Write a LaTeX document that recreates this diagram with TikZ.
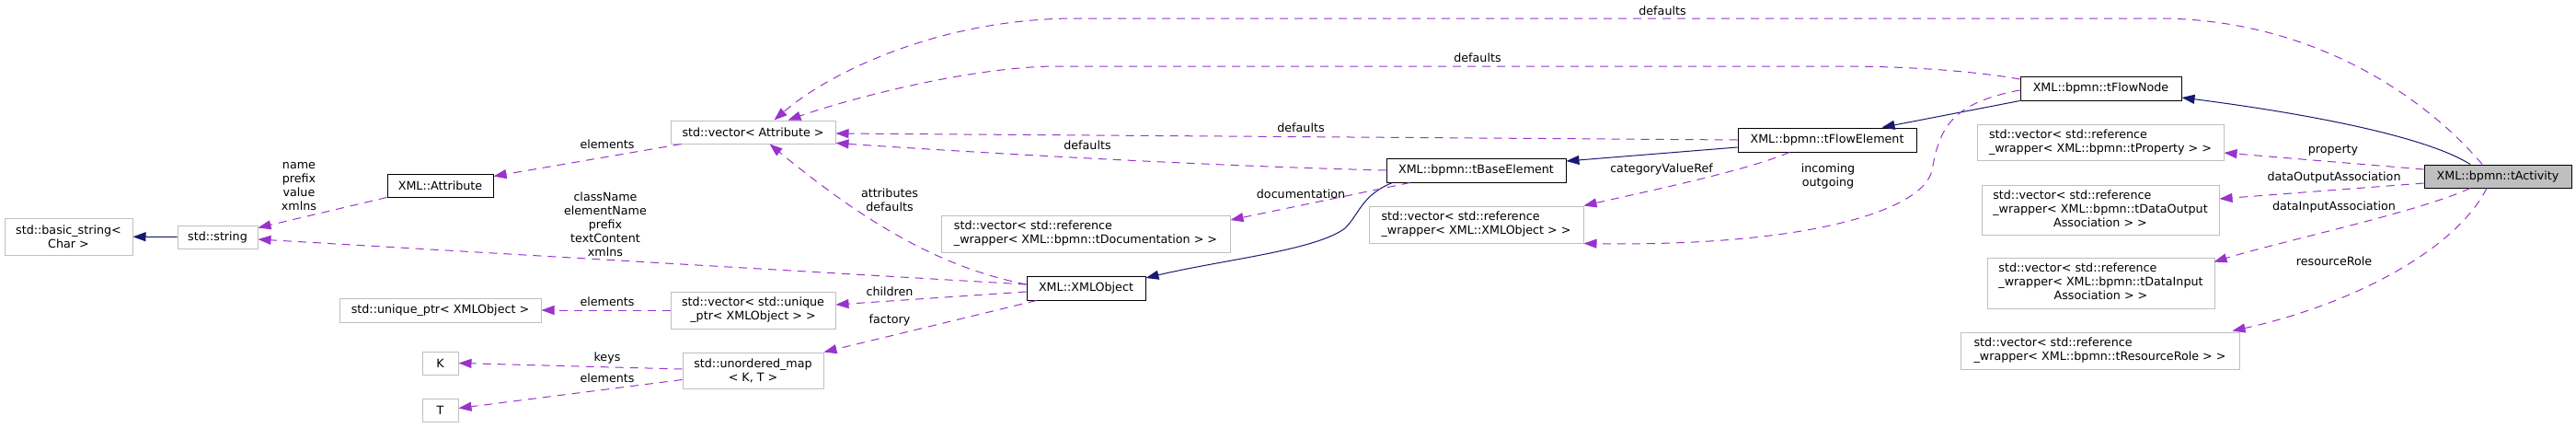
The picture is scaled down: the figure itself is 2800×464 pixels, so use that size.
\documentclass[tikz,border=0pt]{standalone}
\usepackage{fontspec}
\setmainfont{DejaVu Sans}
\usetikzlibrary{arrows.meta}
\definecolor{memline}{RGB}{154,50,205}
\definecolor{inhline}{RGB}{25,25,112}
\definecolor{extgray}{RGB}{191,191,191}

\begin{document}
\begin{tikzpicture}[
  x=1pt, y=-1pt,
  font=\fontsize{12.7}{15}\selectfont,
  cls/.style={draw=black, line width=1pt, fill=white, inner sep=0pt},
  ext/.style={cls, draw=extgray, line width=1pt},
  cur/.style={cls, fill=extgray},
  inh/.style={-{Triangle[length=14pt,width=10pt]}, draw=inhline, line width=1pt},
  mem/.style={-{Triangle[length=14pt,width=10pt]}, draw=memline, line width=1pt,
              dash pattern=on 9pt off 7pt},
  lbl/.style={inner sep=0pt, align=center},
]
\path[use as bounding box, fill=white] (0,0) rectangle (2800,464);

% ===================== LEFT: std types =====================
\node[ext, minimum width=139, minimum height=40, align=center] (bstr) at (74.5,257) {std::basic\_string<\\Char >};
\node[ext, minimum width=87, minimum height=25] (str) at (236.5,257.5) {std::string};
\node[cls, minimum width=115, minimum height=25] (attr) at (478.5,201.5) {XML::Attribute};
\node[ext, minimum width=219, minimum height=26] (uptr) at (478.5,337) {std::unique\_ptr< XMLObject >};
\node[ext, minimum width=39, minimum height=25] (kk) at (478.5,394.5) {K};
\node[ext, minimum width=39, minimum height=25] (tt) at (478.5,445.5) {T};

\node[ext, minimum width=179, minimum height=25] (vattr) at (818.5,143.5) {std::vector< Attribute >};
\node[ext, minimum width=179, minimum height=40, align=center] (vuptr) at (818.5,337) {std::vector< std::unique\\\_ptr< XMLObject > >};
\node[ext, minimum width=153, minimum height=39, align=center] (umap) at (818.5,402.5) {std::unordered\_map\\< K, T >};

% ===================== MIDDLE: XMLObject, tBaseElement =====================
\node[ext, minimum width=314, minimum height=40, align=left] (vdoc) at (1180,254) {std::vector< std::reference\\\_wrapper< XML::bpmn::tDocumentation > >};
\node[cls, minimum width=129, minimum height=26] (xmlobj) at (1180.5,313) {XML::XMLObject};
\node[cls, minimum width=195, minimum height=26] (base) at (1604.5,185) {XML::bpmn::tBaseElement};
\node[ext, minimum width=233, minimum height=40, align=left] (vobj) at (1604.5,244) {std::vector< std::reference\\\_wrapper< XML::XMLObject > >};
\node[cls, minimum width=194, minimum height=26] (flowel) at (1986,152) {XML::bpmn::tFlowElement};
\node[cls, minimum width=175, minimum height=26] (flownode) at (2283.5,96) {XML::bpmn::tFlowNode};

% ===================== RIGHT: tActivity members =====================
\node[ext, minimum width=268, minimum height=39, align=left] (vprop) at (2283,154.5) {std::vector< std::reference\\\_wrapper< XML::bpmn::tProperty > >};
\node[ext, minimum width=258, minimum height=54] (vdout) at (2283,228) {%
\begin{tabular}{@{}l@{}}
std::vector< std::reference\\
\_wrapper< XML::bpmn::tDataOutput\\
\multicolumn{1}{@{}c@{}}{Association > >}
\end{tabular}};
\node[ext, minimum width=247, minimum height=55] (vdin) at (2283.5,307.5) {%
\begin{tabular}{@{}l@{}}
std::vector< std::reference\\
\_wrapper< XML::bpmn::tDataInput\\
\multicolumn{1}{@{}c@{}}{Association > >}
\end{tabular}};
\node[ext, minimum width=303, minimum height=40, align=left] (vrole) at (2282.5,381) {std::vector< std::reference\\\_wrapper< XML::bpmn::tResourceRole > >};
\node[cur, minimum width=160, minimum height=25] (act) at (2715,191.5) {XML::bpmn::tActivity};

% inheritance (child -> base)
\draw[inh] (str) -- (bstr);
\draw[inh] ([shift={(7,0)}]base.south west) .. controls (1480,212) and (1478,232) .. (1462,248)
  .. controls (1430,272) and (1330,282) .. ([shift={(0,-11)}]xmlobj.east);
\draw[inh] ([shift={(0,8)}]flowel.west) -- ([shift={(0,-10)}]base.east);
\draw[inh] (flownode.south west) -- ([shift={(-38,0)}]flowel.north east);
\draw[inh] ([shift={(-30,0)}]act.north) .. controls (2640,150) and (2520,125) .. ([shift={(0,10)}]flownode.east);

% members (owner -> member type)
\draw[mem] (attr.south west) -- ([shift={(0,-10)}]str.east);
\draw[mem] ([shift={(0,-4)}]xmlobj.west) -- ([shift={(0,2.5)}]str.east);
\draw[mem] ([shift={(12,0)}]vattr.south west) -- ([shift={(0,-10)}]attr.east);
\draw[mem] ([shift={(0,-4)}]xmlobj.west) .. controls (1030,292) and (950,250) .. ([shift={(18,0)}]vattr.south);
\draw[mem] (base.west) .. controls (1300,180) and (1050,165) .. ([shift={(0,-1)}]vattr.south east);
\draw[mem] (flowel.west) -- ([shift={(0,1.5)}]vattr.east);
\draw[mem] ([shift={(0,-10)}]flownode.west) .. controls (2150,78) and (2080,72) .. (2000,72) -- (1150,72)
  .. controls (1060,72) and (930,105) .. ([shift={(38,0)}]vattr.north);
\draw[mem] ([shift={(-17,0)}]act.north) .. controls (2640,110) and (2520,22) .. (2350,20) -- (1170,20)
  .. controls (1020,20) and (900,80) .. ([shift={(23,0)}]vattr.north);
\draw[mem] (vuptr) -- (uptr);
\draw[mem] ([shift={(0,4)}]xmlobj.west) -- ([shift={(0,-6)}]vuptr.east);
\draw[mem] ([shift={(11,0)}]xmlobj.south west) -- (umap.north east);
\draw[mem] ([shift={(0,-1.5)}]umap.west) -- (kk.east);
\draw[mem] ([shift={(0,10)}]umap.west) -- ([shift={(0,-2)}]tt.east);
\draw[mem] ([shift={(-72,0)}]base.south) -- ([shift={(0,-15)}]vdoc.east);
\draw[mem] ([shift={(-41,0)}]flowel.south) .. controls (1900,185) and (1790,208) .. (vobj.north east);
\draw[mem] ([shift={(0,2)}]flownode.west) .. controls (2120,112) and (2108,140) .. (2100,185)
  .. controls (2090,230) and (1960,268) .. (vobj.south east);
\draw[mem] ([shift={(0,-7.5)}]act.west) -- ([shift={(0,11.5)}]vprop.east);
\draw[mem] ([shift={(0,7.5)}]act.west) -- ([shift={(0,-12)}]vdout.east);
\draw[mem] ([shift={(-30,0)}]act.south) .. controls (2630,230) and (2480,262) .. ([shift={(-1,5)}]vdin.north east);
\draw[mem] ([shift={(-12,0)}]act.south) .. controls (2670,270) and (2560,330) .. ([shift={(-8,-1)}]vrole.north east);

% member names
\node[lbl] (l-attr) at (325,203) {name\\prefix\\value\\xmlns};
\node[lbl] (l-xmlstr) at (658,244) {className\\elementName\\prefix\\textContent\\xmlns};
\node[lbl] (l-elem1) at (660,157) {elements};
\node[lbl] (l-attrdef) at (967,217) {attributes\\defaults};
\node[lbl] (l-def1) at (1182,158) {defaults};
\node[lbl] (l-def2) at (1414,139) {defaults};
\node[lbl] (l-def3) at (1606,63) {defaults};
\node[lbl] (l-def4) at (1807,12) {defaults};
\node[lbl] (l-elem2) at (660,328) {elements};
\node[lbl] (l-child) at (967,317) {children};
\node[lbl] (l-fact) at (967,348) {factory};
\node[lbl] (l-keys) at (660,389) {keys};
\node[lbl] (l-elem3) at (660,411) {elements};
\node[lbl] (l-doc) at (1414,211) {documentation};
\node[lbl] (l-cat) at (1806,184) {categoryValueRef};
\node[lbl] (l-inout) at (1987,191) {incoming\\outgoing};
\node[lbl] (l-prop) at (2536,163) {property};
\node[lbl] (l-dout) at (2537,193) {dataOutputAssociation};
\node[lbl] (l-din) at (2537,225) {dataInputAssociation};
\node[lbl] (l-role) at (2537,284) {resourceRole};

\end{tikzpicture}
\end{document}
